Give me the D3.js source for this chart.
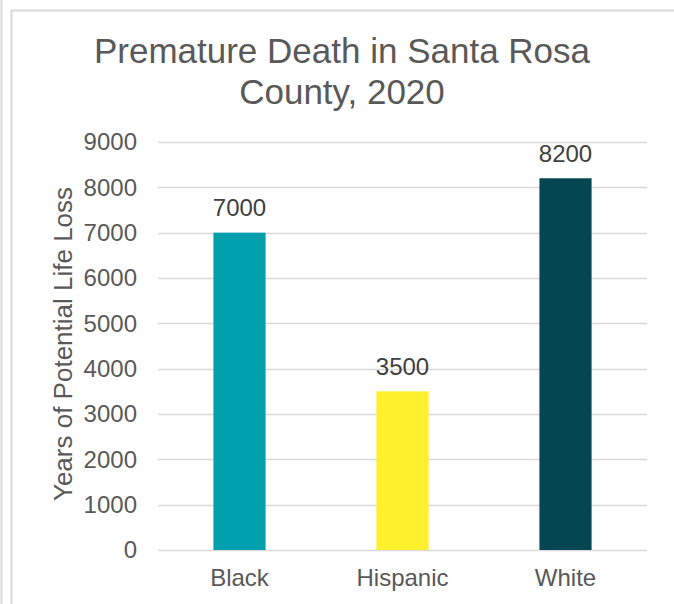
<!DOCTYPE html>
<html>
<head>
<meta charset="utf-8">
<script src="https://cdn.jsdelivr.net/npm/d3@7"></script>
<style>
  html, body { margin: 0; padding: 0; background: #fff; }
  svg { display: block; font-family: "Liberation Sans", Arial, sans-serif; }
</style>
</head>
<body>
<svg id="chart" width="674" height="604"></svg>
<script>
// Years of potential life loss by group
const categories = ["Black", "Hispanic", "White"];
const values = [7000, 3500, 8200];
const barColors = ["#00A0AF", "#FFF02E", "#044752"];
const yTicks = [0, 1000, 2000, 3000, 4000, 5000, 6000, 7000, 8000, 9000];

const svg = d3.select("#chart");
const W = 674, H = 604;
const textColor = "#595959";
const fontFamily = "'Liberation Sans', Arial, sans-serif";

// outer frame lines
svg.append("line").attr("x1", 1.5).attr("x2", 1.5).attr("y1", 0).attr("y2", H)
  .attr("stroke", "#d9d9d9").attr("stroke-width", 2);
svg.append("line").attr("x1", 11.5).attr("x2", 11.5).attr("y1", 10).attr("y2", H)
  .attr("stroke", "#d9d9d9").attr("stroke-width", 2);
svg.append("line").attr("x1", 11).attr("x2", W).attr("y1", 10.5).attr("y2", 10.5)
  .attr("stroke", "#d9d9d9").attr("stroke-width", 2);

const plot = { left: 158, right: 647, top: 142, bottom: 550 };

const x = d3.scaleBand().domain(categories)
  .range([plot.left, plot.right]).paddingInner(0.68).paddingOuter(0.34);
const y = d3.scaleLinear().domain([0, 9000]).range([plot.bottom, plot.top]);

// gridlines
svg.append("g").selectAll("line").data(yTicks).join("line")
  .attr("x1", plot.left).attr("x2", plot.right)
  .attr("y1", d => Math.round(y(d)) + 0.5).attr("y2", d => Math.round(y(d)) + 0.5)
  .attr("stroke", "#d9d9d9").attr("stroke-width", 1.5);

// y axis labels
const yAxis = d3.axisLeft(y).tickValues(yTicks).tickFormat(d3.format("d"))
  .tickSize(0).tickPadding(0);
const gy = svg.append("g").attr("transform", `translate(${plot.left - 21},0)`).call(yAxis);
gy.select(".domain").remove();
gy.selectAll("text").attr("fill", textColor).style("font-size", "24px")
  .style("font-family", fontFamily);

// bars
svg.append("g").selectAll("rect").data(categories).join("rect")
  .attr("x", d => x(d)).attr("width", x.bandwidth())
  .attr("y", (d, i) => y(values[i])).attr("height", (d, i) => y(0) - y(values[i]))
  .attr("fill", (d, i) => barColors[i]);

// value labels
svg.append("g").selectAll("text").data(categories).join("text")
  .attr("x", d => x(d) + x.bandwidth() / 2)
  .attr("y", (d, i) => y(values[i]) - 16.5)
  .attr("text-anchor", "middle").attr("fill", "#404040")
  .style("font-size", "24px")
  .text((d, i) => values[i]);

// x axis labels
const xAxis = d3.axisBottom(x).tickSize(0).tickPadding(0);
const gx = svg.append("g").attr("transform", `translate(0,${plot.bottom + 19})`).call(xAxis);
gx.select(".domain").remove();
gx.selectAll("text").attr("fill", textColor).style("font-size", "24px")
  .style("font-family", fontFamily);

// y axis title
svg.append("text")
  .attr("transform", `translate(72,344) rotate(-90)`)
  .attr("text-anchor", "middle").attr("fill", textColor)
  .style("font-size", "26px")
  .text("Years of Potential Life Loss");

// chart title
const title = svg.append("text").attr("text-anchor", "middle").attr("fill", textColor)
  .style("font-size", "35px");
title.append("tspan").attr("x", 342).attr("y", 63).text("Premature Death in Santa Rosa");
title.append("tspan").attr("x", 342).attr("y", 104).text("County, 2020");
</script>
</body>
</html>
